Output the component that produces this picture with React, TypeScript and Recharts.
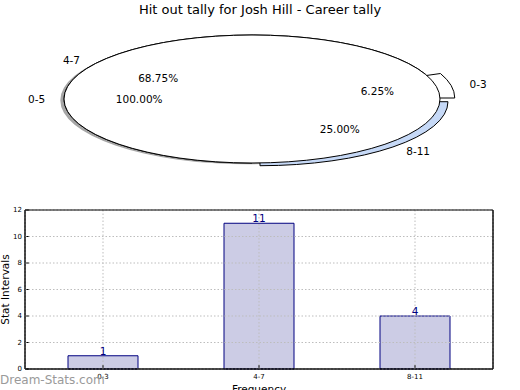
import React from 'react';
import {
  PieChart, Pie, Cell, BarChart, Bar, XAxis, YAxis, CartesianGrid, LabelList, ReferenceArea,
} from 'recharts';

const intervals = ['0-3', '4-7', '8-11'];
const tally = [1, 11, 4];
const totalBand = ['0-5'];
const totalTally = [16];
const yTicks = [0, 2, 4, 6, 8, 10, 12];

const FONT = '"DejaVu Sans", "Bitstream Vera Sans", sans-serif';
const SY = 64 / 188; // vertical squash of the pie (matplotlib non-square axes)
const RAD = Math.PI / 180;
const explode: Record<string, number> = { '0-3': 0.08, '4-7': 0, '8-11': 0.06 };
const sliceFill: Record<string, string> = { '0-3': '#ffffff', '4-7': '#ffffff', '8-11': '#c6d9f7' };

const sliceData = intervals.map((name, i) => ({ name, value: tally[i] }));
const totalData = totalBand.map((name, i) => ({ name, value: totalTally[i] }));
const barData = intervals.map((interval, i) => ({ interval, count: tally[i] }));

function shift(name: string, r: number, mid: number) {
  const e = explode[name] || 0;
  return { dx: e * r * Math.cos(mid * RAD), dy: -e * r * SY * Math.sin(mid * RAD) };
}

function ellipsePath(cx: number, cy: number, r: number, a0: number, a1: number) {
  const ry = r * SY;
  if (Math.abs(a1 - a0) >= 359.99) {
    return `M ${cx - r} ${cy} A ${r} ${ry} 0 1 0 ${cx + r} ${cy} A ${r} ${ry} 0 1 0 ${cx - r} ${cy} Z`;
  }
  const x0 = cx + r * Math.cos(a0 * RAD), y0 = cy - ry * Math.sin(a0 * RAD);
  const x1 = cx + r * Math.cos(a1 * RAD), y1 = cy - ry * Math.sin(a1 * RAD);
  const large = Math.abs(a1 - a0) > 180 ? 1 : 0;
  const sweep = a1 > a0 ? 0 : 1;
  return `M ${cx} ${cy} L ${x0} ${y0} A ${r} ${ry} 0 ${large} ${sweep} ${x1} ${y1} Z`;
}

const EllipseSector = (p: any) => {
  const name = p.payload?.name ?? p.name;
  const mid = (p.startAngle + p.endAngle) / 2;
  const { dx, dy } = shift(name, p.outerRadius, mid);
  return (
    <path
      d={ellipsePath(p.cx + dx, p.cy + dy, p.outerRadius, p.startAngle, p.endAngle)}
      fill={p.fill}
      fillOpacity={p.fillOpacity}
      stroke={p.stroke}
      strokeWidth={p.strokeWidth}
    />
  );
};

const pieLabel = (p: any) => {
  const name = p.payload?.name ?? p.name;
  const mid = p.midAngle;
  const r = p.outerRadius;
  const { dx, dy } = shift(name, r, mid);
  const c = Math.cos(mid * RAD), s = Math.sin(mid * RAD);
  const cx = p.cx + dx, cy = p.cy + dy;
  return (
    <g>
      <text x={cx + 1.1 * r * c} y={cy - 1.1 * r * SY * s} textAnchor={c > 0 ? 'start' : 'end'}
        dominantBaseline="central" fontSize={10.5} fontFamily={FONT} fill="#000">{name}</text>
      <text x={cx + 0.6 * r * c} y={cy - 0.6 * r * SY * s} textAnchor="middle"
        dominantBaseline="central" fontSize={10.5} fontFamily={FONT} fill="#000">{(p.percent * 100).toFixed(2)}%</text>
    </g>
  );
};

const tickStyle = { fontSize: 7, fill: '#000', fontFamily: FONT };

export default function App() {
  const pcx = 252, pcy = 99, pr = 188;
  return (
    <div style={{ position: 'absolute', left: 0, top: 0, width: 520, height: 390, background: '#fff', fontFamily: FONT, overflow: 'hidden' }}>
      <div style={{ position: 'absolute', top: 1, left: 0, width: 520, textAlign: 'center', fontSize: 13, lineHeight: '18px', color: '#000' }}>
        Hit out tally for Josh Hill - Career tally
      </div>
      <div style={{ position: 'absolute', top: 0, left: 0 }}>
        <PieChart width={520} height={200} margin={{ top: 0, right: 0, bottom: 0, left: 0 }}>
          {/* shadow of the overall pie */}
          <Pie data={totalData} dataKey="value" nameKey="name" cx={pcx - 3.7} cy={pcy + 1.3} outerRadius={pr}
            isAnimationActive={false} shape={EllipseSector} stroke="none" fill="#4d4d4d" fillOpacity={0.5} />
          {/* interval slices */}
          <Pie data={sliceData} dataKey="value" nameKey="name" cx={pcx} cy={pcy} outerRadius={pr}
            isAnimationActive={false} shape={EllipseSector} stroke="#000" strokeWidth={1}>
            {sliceData.map((d) => <Cell key={d.name} fill={sliceFill[d.name]} stroke="#000" />)}
          </Pie>
          {/* overall 0-5 pie */}
          <Pie data={totalData} dataKey="value" nameKey="name" cx={pcx} cy={pcy} outerRadius={pr}
            isAnimationActive={false} shape={EllipseSector} stroke="#000" strokeWidth={1} fill="#fff"
            label={pieLabel} labelLine={false} />
          {/* labels for the interval slices, drawn on top */}
          <Pie data={sliceData} dataKey="value" nameKey="name" cx={pcx} cy={pcy} outerRadius={pr}
            isAnimationActive={false} shape={() => <g />} stroke="none" fill="transparent"
            label={pieLabel} labelLine={false} />
        </PieChart>
      </div>
      <div style={{ position: 'absolute', top: 200, left: 0 }}>
        <BarChart width={520} height={190} data={barData} margin={{ top: 10, right: 26, bottom: 20, left: 24 }}>
          <CartesianGrid stroke="#bdbdbd" strokeDasharray="1.5 2" zIndex={600} />
          <XAxis dataKey="interval" height={1} interval={0} tickSize={-4} tickMargin={9}
            tick={tickStyle} axisLine={{ stroke: '#000' }} tickLine={{ stroke: '#000' }}
            label={{
              content: (lp: any) => (
                <text x={lp.viewBox.x + lp.viewBox.width / 2} y={lp.viewBox.y + 24} textAnchor="middle"
                  fontSize={10.5} fontFamily={FONT} fill="#000">Frequency</text>
              ),
            }} />
          <YAxis type="number" domain={[0, 12]} ticks={yTicks} width={1} tickSize={-4} tickMargin={7}
            tick={tickStyle} axisLine={{ stroke: '#000' }} tickLine={{ stroke: '#000' }}
            label={{
              content: (lp: any) => {
                const x = lp.viewBox.x - 15, y = lp.viewBox.y + lp.viewBox.height / 2;
                return (
                  <text x={x} y={y} transform={`rotate(-90 ${x} ${y})`} textAnchor="middle"
                    fontSize={10.5} fontFamily={FONT} fill="#000">Stat Intervals</text>
                );
              },
            }} />
          <YAxis yAxisId="right" orientation="right" type="number" domain={[0, 12]} ticks={yTicks} width={1}
            allowDataOverflow tick={false} tickSize={-4} axisLine={{ stroke: '#000' }} tickLine={{ stroke: '#000' }} />
          <Bar dataKey="count" barSize={70} fill="#ccccE5" stroke="#000080" strokeWidth={1} isAnimationActive={false}>
            <LabelList dataKey="count" position="top" offset={1} fill="#000080" fontSize={10.5} fontFamily={FONT} />
          </Bar>
          <ReferenceArea y1={0} y2={12} fill="none" stroke="#000" strokeWidth={1} zIndex={700} />
        </BarChart>
      </div>
      <div style={{ position: 'absolute', left: 0, top: 372, fontSize: 12, lineHeight: '16px', color: '#9a9a9a' }}>
        Dream-Stats.com
      </div>
    </div>
  );
}
